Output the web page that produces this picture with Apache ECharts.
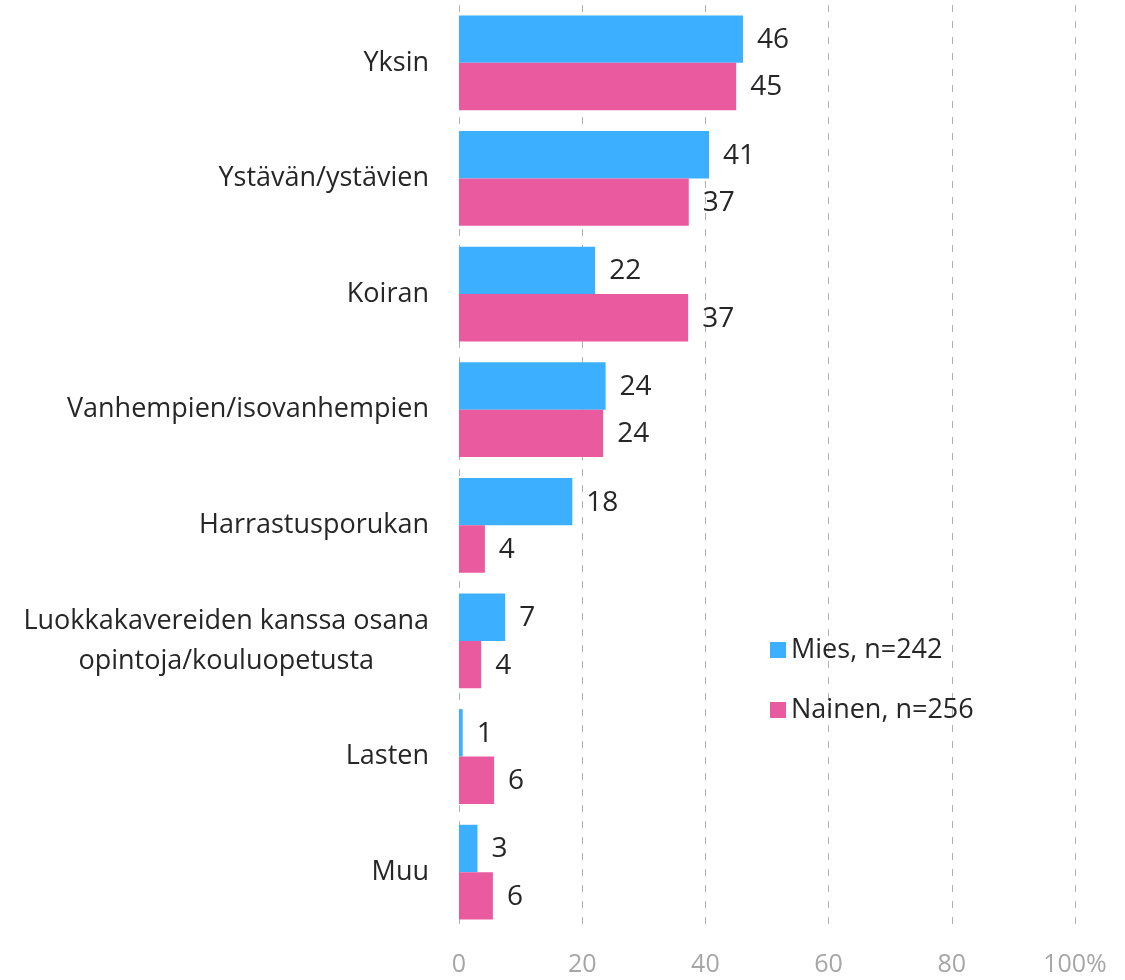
<!DOCTYPE html>
<html>
<head>
<meta charset="utf-8">
<script src="https://cdn.jsdelivr.net/npm/echarts@6/dist/echarts.min.js"></script>
<style>
  html, body { margin: 0; padding: 0; background: #fff; }
  #chart { width: 1125px; height: 980px; }
</style>
</head>
<body>
<div id="chart"></div>
<script>
// kategoriat ylhäältä alas
var categories = [
  'Yksin',
  'Ystävän/ystävien',
  'Koiran',
  'Vanhempien/isovanhempien',
  'Harrastusporukan',
  'Luokkakavereiden kanssa osana\nopintoja/kouluopetusta',
  'Lasten',
  'Muu'
];
var miesValues = [46.1, 40.6, 22.1, 23.8, 18.4, 7.5, 0.6, 3.0];
var nainenValues = [45.0, 37.3, 37.2, 23.4, 4.2, 3.6, 5.7, 5.5];
// arvolabelit (pyöristetyt prosentit)
var miesLabels = [46, 41, 22, 24, 18, 7, 1, 3];
var nainenLabels = [45, 37, 37, 24, 4, 4, 6, 6];
var tickLabels = ['0', '20', '40', '60', '80', '100%'];
var seriesNames = ['Mies, n=242', 'Nainen, n=256'];

var FONT = '"Open Sans", "Noto Sans", sans-serif';

var chart = echarts.init(document.getElementById('chart'));

function barSeries(name, values, labels, color) {
  return {
    name: name,
    type: 'bar',
    data: values,
    itemStyle: { color: color },
    barGap: '0%',
    barCategoryGap: '18%',
    label: {
      show: true,
      position: 'right',
      distance: 14,
      offset: [0, 1],
      color: '#262626',
      fontFamily: FONT,
      fontSize: 28,
      formatter: function (p) { return labels[p.dataIndex]; }
    }
  };
}

chart.setOption({
  animation: false,
  textStyle: { fontFamily: FONT },
  legend: {
    orient: 'vertical',
    left: 765,
    top: 629,
    itemWidth: 16,
    itemHeight: 16,
    itemGap: 28,
    icon: 'rect',
    textStyle: { fontSize: 27, color: '#262626', fontFamily: FONT, lineHeight: 32 },
    data: seriesNames
  },
  grid: {
    left: 459,
    right: 50,
    top: 5,
    bottom: 50
  },
  xAxis: {
    type: 'value',
    min: 0,
    max: 100,
    interval: 20,
    axisLine: { show: false },
    axisTick: { show: false },
    splitLine: {
      show: true,
      lineStyle: { color: '#b0b0b0', type: [7, 9], width: 1 }
    },
    axisLabel: {
      color: '#a6a6a6',
      fontSize: 25,
      fontFamily: FONT,
      margin: 22,
      formatter: function (v) { return tickLabels[Math.round(v / 20)]; }
    }
  },
  yAxis: {
    type: 'category',
    inverse: true,
    data: categories,
    axisLine: { show: false },
    axisTick: { show: false },
    axisLabel: {
      margin: 30,
      color: '#262626',
      fontSize: 27,
      fontFamily: FONT,
      lineHeight: 40,
      formatter: function (v) {
        return v.split('\n').map(function (s) { return '{c|' + s + '}'; }).join('\n');
      },
      rich: {
        c: { align: 'center', fontSize: 27, color: '#262626', fontFamily: FONT, lineHeight: 40 }
      }
    }
  },
  series: [
    barSeries(seriesNames[0], miesValues, miesLabels, '#3cb0ff'),
    barSeries(seriesNames[1], nainenValues, nainenLabels, '#ea5a9f')
  ]
});
</script>
</body>
</html>
